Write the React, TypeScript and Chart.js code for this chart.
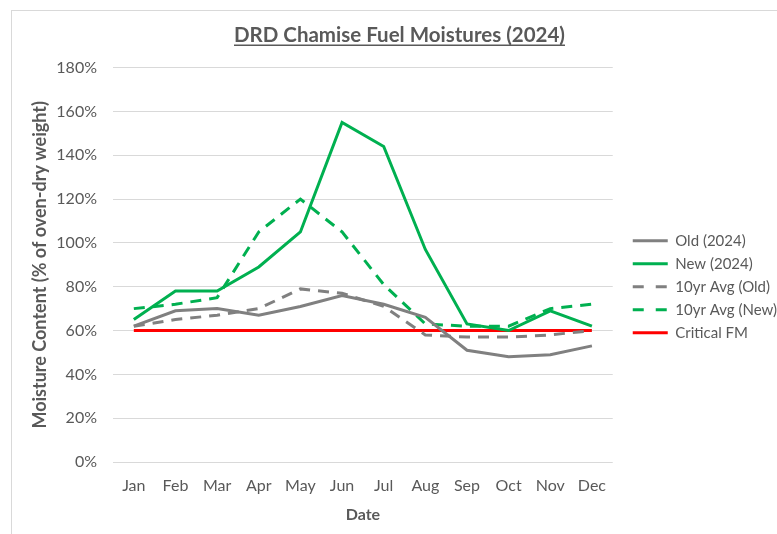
import React, { useEffect, useRef } from "react";
import { Chart, registerables } from "chart.js";

Chart.register(...registerables);

const months = ["Jan", "Feb", "Mar", "Apr", "May", "Jun", "Jul", "Aug", "Sep", "Oct", "Nov", "Dec"];
const old2024 = [62, 69, 70, 67, 71, 76, 72, 66, 51, 48, 49, 53];
const new2024 = [65, 78, 78, 89, 105, 155, 144, 97, 63, 60, 69, 62];
const avgOld = [62, 65, 67, 70, 79, 77, 71, 58, 57, 57, 58, 60];
const avgNew = [70, 72, 75, 105, 120, 105, 81, 63, 62, 62, 70, 72];
const critical = [60, 60, 60, 60, 60, 60, 60, 60, 60, 60, 60, 60];

const chartTitle = "DRD Chamise Fuel Moistures (2024)";
const yTitle = "Moisture Content (% of oven-dry weight)";
const xTitle = "Date";

const TEXT = "#595959";
const FONT = "Lato";
const TITLE_SIZE = 20.5;

const decorPlugin = {
  id: "decor",
  afterDraw(chart: any) {
    const ctx = chart.ctx;
    const tb = chart.titleBlock;
    ctx.save();
    if (tb) {
      ctx.font = `bold ${TITLE_SIZE}px ${FONT}`;
      const w = ctx.measureText(chartTitle).width;
      const cx = (tb.left + tb.right) / 2;
      const cy = tb.top + 12 + (TITLE_SIZE * 1.2) / 2;
      const y = cy + 10;
      ctx.strokeStyle = TEXT;
      ctx.lineWidth = 1.5;
      ctx.beginPath();
      ctx.moveTo(cx - w / 2, y);
      ctx.lineTo(cx + w / 2, y);
      ctx.stroke();
    }
    const area = chart.chartArea;
    const ymid = (area.top + area.bottom) / 2;
    ctx.translate(28, ymid);
    ctx.rotate(-Math.PI / 2);
    ctx.font = `bold 18px ${FONT}`;
    ctx.fillStyle = TEXT;
    ctx.textAlign = "center";
    ctx.textBaseline = "middle";
    ctx.fillText(yTitle, 0, 0);
    ctx.restore();
  },
};

export default function App() {
  const ref = useRef<HTMLCanvasElement>(null);
  useEffect(() => {
    if (!ref.current) return;
    const chart = new Chart(ref.current, {
      type: "line",
      data: {
        labels: months,
        datasets: [
          { label: "Old (2024)", data: old2024, borderColor: "#808080", backgroundColor: "#808080", borderWidth: 3, pointRadius: 0, tension: 0 },
          { label: "New (2024)", data: new2024, borderColor: "#00b050", backgroundColor: "#00b050", borderWidth: 3, pointRadius: 0, tension: 0 },
          { label: "10yr Avg (Old)", data: avgOld, borderColor: "#808080", backgroundColor: "#808080", borderWidth: 3, borderDash: [11, 8], pointRadius: 0, tension: 0 },
          { label: "10yr Avg (New)", data: avgNew, borderColor: "#00b050", backgroundColor: "#00b050", borderWidth: 3, borderDash: [11, 8], pointRadius: 0, tension: 0 },
          { label: "Critical FM", data: critical, borderColor: "#ff0000", backgroundColor: "#ff0000", borderWidth: 3, pointRadius: 0, tension: 0 },
        ],
      },
      options: {
        responsive: false,
        animation: false,
        layout: { padding: { left: 0, right: 5, top: 0, bottom: 11 } },
        plugins: {
          title: {
            display: true,
            text: chartTitle,
            color: TEXT,
            font: { family: FONT, size: TITLE_SIZE, weight: "bold", lineHeight: 1.2 },
            padding: { top: 12, bottom: 20 },
          },
          legend: {
            position: "right",
            maxWidth: 175,
            title: { display: true, text: " ", font: { family: FONT, size: 12, lineHeight: 1.2 }, padding: { top: 12, bottom: 12 } },
            labels: {
              usePointStyle: true,
              pointStyle: "line",
              pointStyleWidth: 35,
              boxWidth: 35,
              color: TEXT,
              padding: 8,
              font: { family: FONT, size: 15 },
              generateLabels(ch: any) {
                const items = Chart.defaults.plugins.legend.labels.generateLabels(ch);
                return items.map((it: any) => {
                  const ds = ch.data.datasets[it.datasetIndex];
                  return {
                    ...it,
                    pointStyle: "line",
                    lineWidth: 3,
                    strokeStyle: ds.borderColor,
                    fillStyle: ds.borderColor,
                    lineDash: ds.borderDash ? [11, 12] : [],
                    lineCap: "butt",
                  };
                });
              },
            },
          },
          tooltip: { enabled: false },
        },
        scales: {
          x: {
            offset: true,
            grid: { display: false, drawTicks: false },
            border: { display: false },
            ticks: { color: TEXT, font: { family: FONT, size: 16 }, padding: 14, maxRotation: 0 },
            title: { display: true, text: xTitle, color: TEXT, font: { family: FONT, size: 16, weight: "bold" }, padding: { top: 4, bottom: 0 } },
            afterFit(scale: any) { scale.height = 62; },
          },
          y: {
            min: 0,
            max: 180,
            grid: { color: "#d9d9d9", drawTicks: false, lineWidth: 1 },
            border: { display: false },
            ticks: { stepSize: 20, color: TEXT, font: { family: FONT, size: 16 }, padding: 16, callback: (v: any) => v + "%" },
            title: { display: false },
            afterFit(scale: any) { scale.width = 101; },
          },
          yr: {
            position: "right",
            display: true,
            grid: { display: false, drawTicks: false },
            border: { display: false },
            ticks: { display: false },
            afterFit(scale: any) { scale.width = 12; },
          },
        },
      },
      plugins: [decorPlugin],
    } as any);
    return () => chart.destroy();
  }, []);
  return (
    <div style={{ position: "fixed", inset: 0, overflow: "hidden", background: "#fff" }}>
      <div style={{ position: "absolute", left: 11, top: 10, width: 800, height: 560, border: "1px solid #d9d9d9", background: "#fff" }}>
        <canvas ref={ref} width={780} height={524} style={{ display: "block" }} />
      </div>
    </div>
  );
}
